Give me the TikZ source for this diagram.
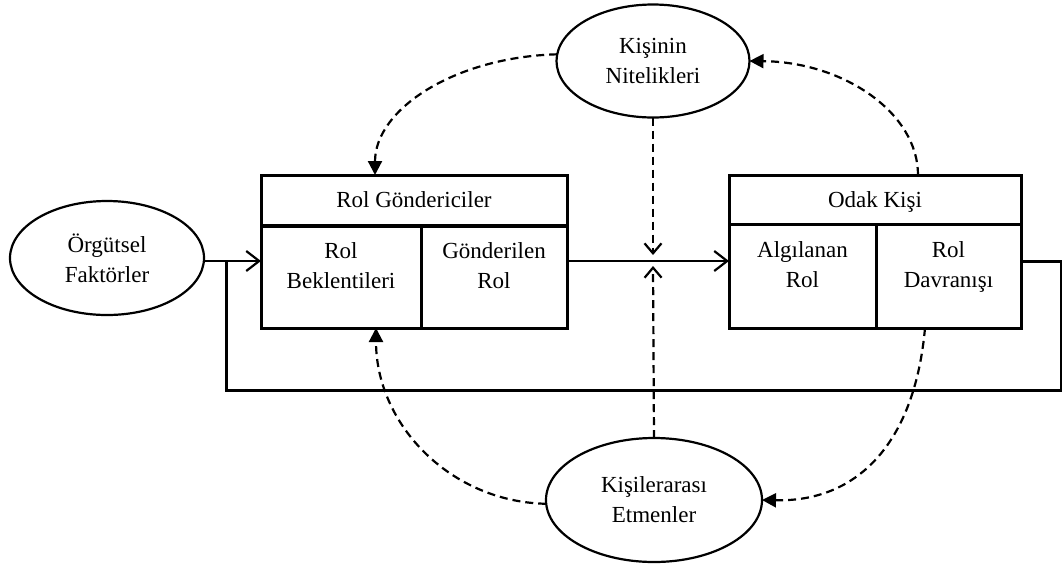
\documentclass[tikz,border=0pt]{standalone}
\usepackage{fontspec}
\setmainfont{Liberation Serif}
\usetikzlibrary{arrows.meta,shapes.geometric,calc}
\begin{document}
\begin{tikzpicture}[x=1pt,y=-1pt,
  cell/.style={draw, line width=3pt, inner sep=0pt, outer sep=0pt},
  oval/.style={draw, ellipse, line width=2.2pt, inner sep=0pt, outer sep=0pt, align=center, font=\fontsize{23}{30}\selectfont},
  lbl/.style={align=center, inner sep=0pt, anchor=base, font=\fontsize{23}{30}\selectfont},
  conn/.style={line width=2.2pt},
  loopline/.style={line width=3pt},
  dashconn/.style={line width=2.2pt, dash pattern=on 8pt off 5pt},
  openarrow/.style={-{Straight Barb[length=13pt,width=20pt]}},
  vtip/.style={-{Straight Barb[length=10pt,width=17pt]}},
  tri/.style={-{Triangle[length=14pt,width=14pt]}}
]
\useasboundingbox (0,0) rectangle (1062,566);

% ellipses
\node[oval, minimum width=194pt, minimum height=114pt] (of) at (107,258) {Örgütsel\\Faktörler};
\node[oval, minimum width=193pt, minimum height=113pt] (kn) at (653,61) {Kişinin\\Nitelikleri};
\node[oval, minimum width=216pt, minimum height=124pt] (ke) at (654,500) {Kişilerarası\\Etmenler};

% left box
\node[cell, minimum width=306pt, minimum height=51pt] (rg) at (414,200.5) {};
\node[cell, minimum width=160pt, minimum height=102pt] (rb) at (341,277) {};
\node[cell, minimum width=146pt, minimum height=102pt] (gr) at (494,277) {};
\draw[line width=4.5pt] (rg.south west) -- (rg.south east);

% right box
\node[cell, minimum width=292pt, minimum height=49pt] (ok) at (875,199.5) {};
\node[cell, minimum width=147pt, minimum height=104pt] (al) at (802.5,276) {};
\node[cell, minimum width=145pt, minimum height=104pt] (rd) at (948.5,276) {};

% texts
\node[lbl] (t1) at (414,207) {Rol Göndericiler};
\node[lbl] (t2) at (341,288) {Rol\\Beklentileri};
\node[lbl] (t3) at (494,288) {Gönderilen\\Rol};
\node[lbl] (t4) at (875,207) {Odak Kişi};
\node[lbl] (t5) at (802.5,287) {Algılanan\\Rol};
\node[lbl] (t6) at (948.5,287) {Rol\\Davranışı};

% main flow
\coordinate (m) at (653,261);
\coordinate (fr) at (1061,390);
\coordinate (fl) at (226,390);
\draw[conn, openarrow] (of.east |- m) -- (rb.west |- m);
\draw[conn, openarrow] (gr.east |- m) -- (al.west |- m);
\draw[loopline] (rd.east |- m) -| (fr) -- (fl) -- (fl |- m);

% dashed influences
\draw[dashconn, vtip] (kn.south) -- ([yshift=6pt]m);
\draw[dashconn, vtip] (ke.north) -- ([yshift=-5pt]m);
\draw[dashconn, tri] (kn.176) .. controls (455,57) and (375,109) .. ($(rg.north west)+(114,0)$);
\draw[dashconn, tri] ($(ok.north west)+(189,0)$) .. controls (918,113) and (844,62) .. (kn.east);
\draw[dashconn, tri] (ke.182) .. controls (451,502) and (376,425) .. ($(rb.south west)+(115,0)$);
\draw[dashconn, tri] ($(rd.south west)+(49,0)$) .. controls (915,440) and (860,502) .. (ke.east);
\end{tikzpicture}
\end{document}
